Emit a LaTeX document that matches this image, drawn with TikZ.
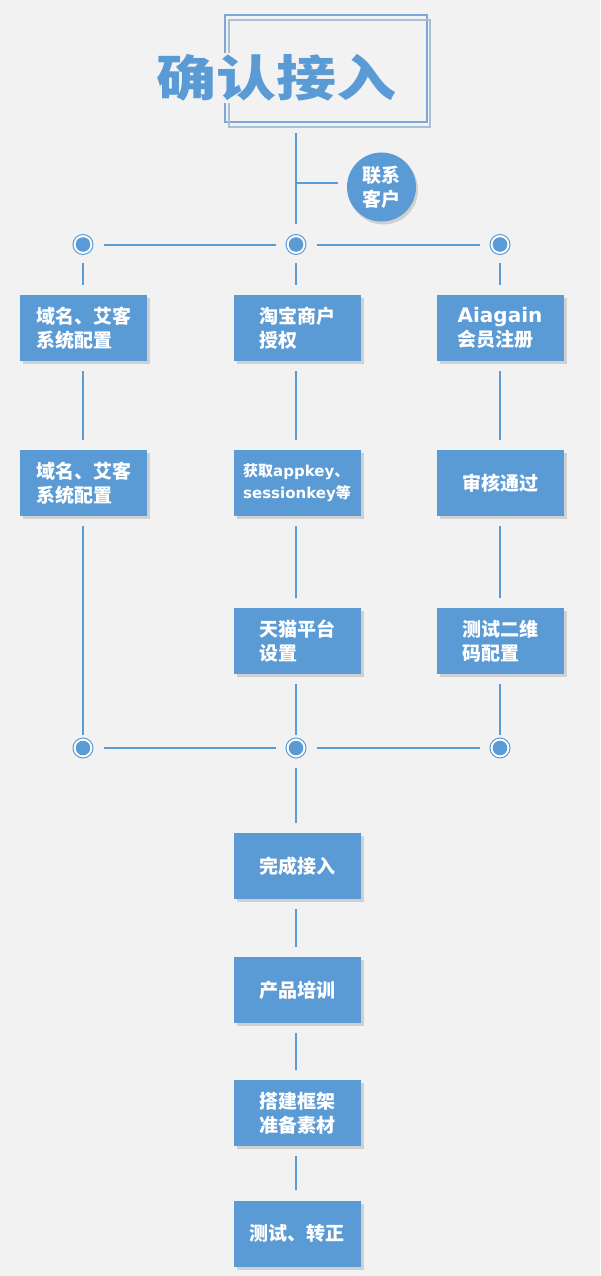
\documentclass[tikz,border=0pt]{standalone}
\usepackage{fontspec}
\setmainfont{Noto Sans CJK SC}
\newfontfamily\lat{DejaVu Sans}
\usetikzlibrary{shadows}
\definecolor{bg}{HTML}{F2F2F2}
\definecolor{mblue}{HTML}{5B9BD5}
\definecolor{shd}{HTML}{D0D0D0}
\definecolor{frameA}{HTML}{7FA6D6}
\definecolor{frameB}{HTML}{A8BFD8}
\begin{document}
\begin{tikzpicture}[x=1pt,y=-1pt,
  conn/.style={draw=mblue, line width=2pt, shorten <=10pt, shorten >=10pt},
  stepbox/.style={rectangle, fill=mblue, minimum width=127pt, minimum height=66pt,
    inner sep=0pt, text=white, align=left,
    font=\bfseries\fontsize{19}{24}\selectfont,
    general shadow={fill=shd, shadow xshift=3pt, shadow yshift=-3pt}},
  jn/.style={circle, draw=mblue, line width=1pt, fill=white, minimum size=20pt, inner sep=0pt,
    path picture={\fill[mblue] (path picture bounding box.center) circle (7.3pt);}},
  ttl/.style={inner sep=2pt, font=\bfseries\fontsize{60}{60}\selectfont}
]
\fill[bg] (0,0) rectangle (600,1276);
\useasboundingbox (0,0) rectangle (600,1276);

% title frame
\draw[frameA, line width=1.3pt] (225,15) rectangle (427,122);
\draw[frameB, line width=1.3pt] (229,20) rectangle (430,127);
\node[ttl, fill=bg, text=mblue] (title) at (276,78) {\scalebox{1}[0.82]{确认接入}};

\coordinate (ttop) at (296,127);
\coordinate (br) at (296,183);

% contact circle
\node[circle, fill=mblue, minimum size=69pt, inner sep=0pt, text=white, align=center,
  font=\bfseries\fontsize{19}{24}\selectfont,
  general shadow={fill=shd, shadow xshift=2pt, shadow yshift=-3pt}] (contact) at (381.5,187) {联系\\客户};

% junctions
\node[jn] (j1l) at (83,244.5) {};
\node[jn] (j1m) at (296,244.5) {};
\node[jn] (j1r) at (500,244.5) {};
\node[jn] (j2l) at (83,748) {};
\node[jn] (j2m) at (296,748) {};
\node[jn] (j2r) at (500,748) {};

% boxes
\node[stepbox] (b11) at (83.5,328) {域名、艾客\\系统配置};
\node[stepbox] (b12) at (297,328) {淘宝商户\\授权};
\node[stepbox] (b13) at (500,328) {{\lat\fontsize{20}{24}\selectfont Aiagain}\\会员注册};
\node[stepbox] (b21) at (83.5,483) {域名、艾客\\系统配置};
\node[stepbox, font=\bfseries\fontsize{15}{22}\selectfont] (b22) at (297,483) {获取{\lat appkey}、\\{\lat sessionkey}等};
\node[stepbox] (b23) at (500,483) {审核通过};
\node[stepbox] (b32) at (297,641) {天猫平台\\设置};
\node[stepbox] (b33) at (500,641) {测试二维\\码配置};
\node[stepbox] (c1) at (297,866) {完成接入};
\node[stepbox] (c2) at (297,990) {产品培训};
\node[stepbox] (c3) at (297,1113) {搭建框架\\准备素材};
\node[stepbox] (c4) at (297,1233.5) {测试、转正};

% connectors
\draw[conn, shorten <=6pt] (ttop) -- (j1m);
\draw[conn, shorten <=0pt, shorten >=9pt] (br) -- (contact.west |- br);
\draw[conn] (j1l) -- (j1m);
\draw[conn] (j1m) -- (j1r);
\draw[conn, shorten <=8pt] (j1l) -- (b11.north -| j1l);
\draw[conn, shorten <=8pt] (j1m) -- (b12.north -| j1m);
\draw[conn, shorten <=8pt] (j1r) -- (b13);
\draw[conn] (b11.south -| j1l) -- (b21.north -| j1l);
\draw[conn] (b12.south -| j1m) -- (b22.north -| j1m);
\draw[conn] (b13) -- (b23);
\draw[conn] (b22.south -| j1m) -- (b32.north -| j1m);
\draw[conn] (b23) -- (b33);
\draw[conn, shorten >=3pt] (b21.south -| j1l) -- (j2l);
\draw[conn, shorten >=3pt] (b32.south -| j2m) -- (j2m);
\draw[conn, shorten >=3pt] (b33) -- (j2r);
\draw[conn] (j2l) -- (j2m);
\draw[conn] (j2m) -- (j2r);
\draw[conn, shorten <=9pt] (j2m) -- (c1.north -| j2m);
\draw[conn] (c1.south -| j2m) -- (c2.north -| j2m);
\draw[conn] (c2.south -| j2m) -- (c3.north -| j2m);
\draw[conn] (c3.south -| j2m) -- (c4.north -| j2m);
\end{tikzpicture}
\end{document}
